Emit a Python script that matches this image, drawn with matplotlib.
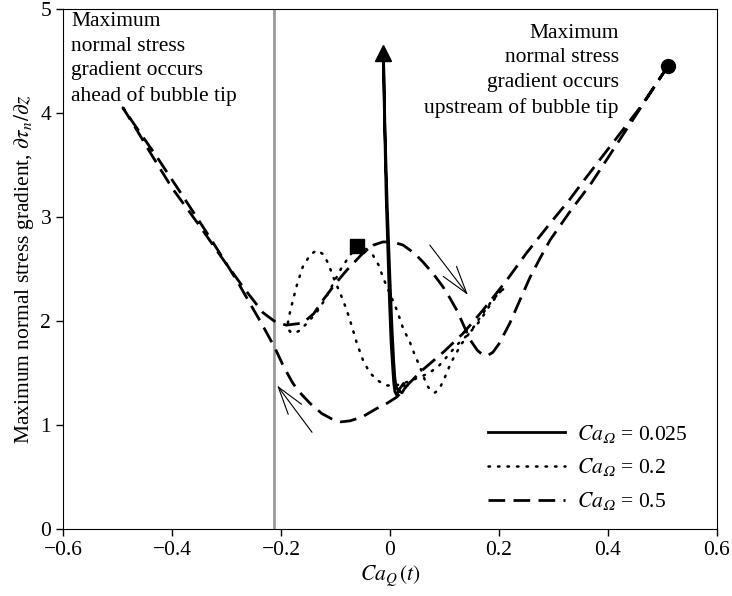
import matplotlib
matplotlib.use("Agg")
import matplotlib.pyplot as plt

plt.rcParams['font.family'] = ['Liberation Serif', 'DejaVu Serif']
plt.rcParams['mathtext.fontset'] = 'stix'
plt.rcParams['font.size'] = 15.5

# Ca_Omega = 0.025 (solid), starts at the triangle
ca025_x = [-0.012, -0.011, -0.009, -0.007, -0.004, -0.001, 0.002, 0.005, 0.007, 0.009,
           0.012, 0.018, 0.025, 0.028, 0.022, 0.015, 0.011, 0.009, 0.007, 0.004,
           0.0, -0.005, -0.009, -0.012]
ca025_y = [4.58, 4.2, 3.7, 3.2, 2.7, 2.2, 1.8, 1.55, 1.4, 1.32,
           1.29, 1.35, 1.4, 1.36, 1.31, 1.33, 1.38, 1.45, 1.6, 1.9,
           2.4, 3.1, 3.8, 4.58]

# Ca_Omega = 0.2 (dotted), starts at the square
ca02_x = [-0.06, -0.045, -0.031, -0.02, -0.013, 0.0, 0.013, 0.024, 0.037, 0.045,
          0.055, 0.062, 0.068, 0.075, 0.082, 0.09, 0.1, 0.112, 0.13, 0.152,
          0.17, 0.185, 0.2, 0.211, 0.2, 0.182, 0.165, 0.145, 0.123, 0.105,
          0.09, 0.072, 0.055, 0.04, 0.024, 0.01, -0.006, -0.02, -0.037, -0.05,
          -0.061, -0.07, -0.079, -0.09, -0.104, -0.113, -0.122, -0.134, -0.146, -0.16,
          -0.17, -0.178, -0.185, -0.188, -0.184, -0.176, -0.165, -0.152, -0.135, -0.12,
          -0.105, -0.09, -0.075, -0.06]
ca02_y = [2.72, 2.7, 2.63, 2.53, 2.42, 2.26, 2.1, 1.93, 1.79, 1.68,
          1.56, 1.46, 1.38, 1.33, 1.31, 1.34, 1.45, 1.6, 1.77, 1.93,
          2.07, 2.18, 2.27, 2.32, 2.27, 2.14, 2.0, 1.88, 1.77, 1.66,
          1.57, 1.5, 1.46, 1.43, 1.4, 1.38, 1.38, 1.42, 1.5, 1.63,
          1.79, 1.95, 2.1, 2.25, 2.42, 2.55, 2.64, 2.68, 2.64, 2.52,
          2.36, 2.2, 2.05, 1.96, 1.9, 1.88, 1.91, 1.98, 2.08, 2.2,
          2.35, 2.5, 2.62, 2.72]

# Ca_Omega = 0.5 (dashed), starts at the circle
ca05_x = [0.51, 0.46, 0.41, 0.36, 0.33, 0.294, 0.25, 0.214, 0.17, 0.134,
          0.1, 0.06, 0.035, 0.013, -0.005, -0.024, -0.05, -0.073, -0.09, -0.104,
          -0.125, -0.147, -0.165, -0.178, -0.195, -0.211, -0.235, -0.257, -0.28, -0.306,
          -0.34, -0.38, -0.428, -0.46, -0.49,
          -0.465, -0.44, -0.40, -0.35, -0.306, -0.27, -0.233, -0.21, -0.19, -0.16,
          -0.14, -0.123, -0.1, -0.079, -0.05, -0.03, -0.013, 0.005, 0.024, 0.045,
          0.06, 0.08, 0.097, 0.11, 0.123, 0.135, 0.147, 0.16, 0.171, 0.18,
          0.189, 0.2, 0.22, 0.24, 0.257, 0.275, 0.294, 0.33, 0.37, 0.41,
          0.46, 0.51]
ca05_y = [4.45, 4.06, 3.72, 3.38, 3.17, 2.94, 2.65, 2.39, 2.1, 1.88,
          1.71, 1.53, 1.4, 1.27, 1.21, 1.16, 1.08, 1.04, 1.03, 1.05,
          1.11, 1.21, 1.31, 1.4, 1.56, 1.74, 1.97, 2.17, 2.38, 2.6,
          2.88, 3.2, 3.58, 3.82, 4.05,
          3.84, 3.62, 3.28, 2.92, 2.59, 2.33, 2.08, 1.99, 1.96, 1.98,
          2.07, 2.2, 2.36, 2.49, 2.65, 2.73, 2.76, 2.76, 2.73, 2.65,
          2.57, 2.45, 2.33, 2.22, 2.1, 1.96, 1.82, 1.72, 1.67, 1.67,
          1.7, 1.78, 1.98, 2.22, 2.42, 2.6, 2.78, 3.05, 3.33, 3.65,
          4.05, 4.45]

labels = [r'$Ca_{\mathit{\Omega}}$ = 0.025', r'$Ca_{\mathit{\Omega}}$ = 0.2',
          r'$Ca_{\mathit{\Omega}}$ = 0.5']
labels = [s.replace(r'\mathit{\Omega}', '\U0001D6FA') for s in labels]
x_bound = -0.213

fig, ax = plt.subplots(figsize=(7.32, 5.96), dpi=100)
fig.subplots_adjust(left=0.086, right=0.9795, top=0.985, bottom=0.1124)

ax.axvline(x_bound, color='#999999', lw=2, zorder=1)

ax.plot(ca025_x, ca025_y, color='black', lw=2.0, label=labels[0])
ax.plot(ca02_x, ca02_y, color='black', lw=1.8, linestyle=(0, (0.6, 3.2)),
        dash_capstyle='round', label=labels[1])
ax.plot(ca05_x, ca05_y, color='black', lw=2.0, linestyle=(0, (6, 3)), label=labels[2])

ax.plot(ca025_x[0], ca025_y[0], marker='^', color='black', ms=11)
ax.plot(ca02_x[0], ca02_y[0], marker='s', color='black', ms=10)
ax.plot(ca05_x[0], ca05_y[0], marker='o', color='black', ms=10)

arrow = dict(arrowstyle='->,head_length=1.0,head_width=0.3', color='black', lw=0.8,
             mutation_scale=20, shrinkA=0, shrinkB=0)
ax.annotate('', xy=(0.143, 2.25), xytext=(0.073, 2.73), arrowprops=arrow)
ax.annotate('', xy=(-0.207, 1.38), xytext=(-0.143, 0.93), arrowprops=arrow)

ax.text(-0.585, 4.97, 'Maximum\nnormal stress\ngradient occurs\nahead of bubble tip',
        ha='left', va='top', linespacing=1.4)
ax.text(0.42, 4.86, 'Maximum\nnormal stress\ngradient occurs\nupstream of bubble tip',
        ha='right', va='top', linespacing=1.4)

ax.set_xlim(-0.6, 0.6)
ax.set_ylim(0, 5)
ax.set_xticks([-0.6, -0.4, -0.2, 0, 0.2, 0.4, 0.6])
ax.set_xticklabels(['\u22120.6', '\u22120.4', '\u22120.2', '0', '0.2', '0.4', '0.6'])
ax.set_yticks([0, 1, 2, 3, 4, 5])
ax.tick_params(direction='out', length=5, width=1)
ax.set_xlabel(r'$Ca_Q\,(t)$', labelpad=3)
ax.set_ylabel(r'Maximum normal stress gradient, $\partial\tau_n/\partial z$', labelpad=3)

ax.legend(loc='lower right', frameon=False, handlelength=3.6, handletextpad=0.55,
          labelspacing=0.55, bbox_to_anchor=(0.985, -0.005))

fig.savefig('out.png', dpi=100)
